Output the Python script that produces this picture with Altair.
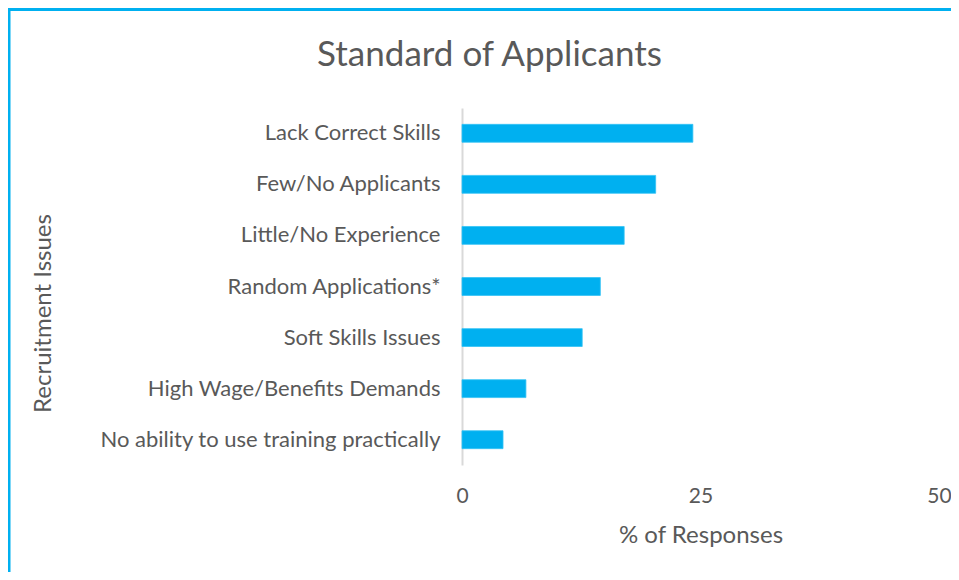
import altair as alt
import pandas as pd

categories = [
    "Lack Correct Skills",
    "Few/No Applicants",
    "Little/No Experience",
    "Random Applications*",
    "Soft Skills Issues",
    "High Wage/Benefits Demands",
    "No ability to use training practically",
]
values = [24.2, 20.3, 17.0, 14.5, 12.6, 6.7, 4.3]
x_ticks = [0, 25, 50]

df = pd.DataFrame({"issue": categories, "pct": values})

FONT = "Lato"
TEXT = "#595959"
BLUE = "#00B0F0"

bars = alt.Chart(df).mark_bar(color=BLUE, stroke="#33C3F5", strokeWidth=0.8).encode(
    x=alt.X(
        "pct:Q",
        scale=alt.Scale(domain=[0, 50], nice=False, zero=True),
        axis=alt.Axis(
            title="% of Responses",
            values=x_ticks,
            grid=False,
            domain=False,
            ticks=False,
            tickSize=0,
            labelFlush=False,
            labelPadding=20,
            labelFontSize=21,
            labelColor=TEXT,
            labelFont=FONT,
            titleFont=FONT,
            titleFontSize=24,
            titleFontWeight="normal",
            titleColor=TEXT,
            titleY=70,
            titleBaseline="middle",
        ),
    ),
    y=alt.Y(
        "issue:N",
        sort=None,
        scale=alt.Scale(paddingInner=0.65, paddingOuter=0.32),
        axis=alt.Axis(
            title="Recruitment Issues",
            grid=False,
            ticks=False,
            tickSize=0,
            domain=True,
            domainColor="#D9D9D9",
            domainWidth=2,
            labelPadding=22,
            labelFontSize=22,
            labelColor=TEXT,
            labelFont=FONT,
            labelLimit=420,
            titleFont=FONT,
            titleFontSize=24,
            titleFontWeight="normal",
            titleColor=TEXT,
            titleX=-419,
            titleY=205,
            titleAlign="center",
            titleBaseline="middle",
            titleAngle=-90,
        ),
    ),
)

border_df = pd.DataFrame({"k": [0]})
top_border = alt.Chart(border_df).mark_rule(color=BLUE, strokeWidth=3).encode(
    x=alt.value(-456), x2=alt.value(500), y=alt.value(-98.5)
)
left_border = alt.Chart(border_df).mark_rule(color=BLUE, strokeWidth=3).encode(
    x=alt.value(-453), y=alt.value(-100), y2=alt.value(470)
)

chart = alt.layer(bars, top_border, left_border).properties(
    width=477,
    height=357,
    autosize=alt.AutoSizeParams(type="none"),
    padding={"left": 454, "top": 100, "right": 12, "bottom": 107},
    title=alt.TitleParams(
        "Standard of Applicants",
        font=FONT,
        fontSize=35,
        fontWeight="normal",
        color=TEXT,
        anchor="middle",
        frame="group",
        dx=-211,
        dy=98,
        offset=32,
    ),
).configure_view(stroke=None)

chart.save("out.html", embed_options={"renderer": "svg", "actions": False})
